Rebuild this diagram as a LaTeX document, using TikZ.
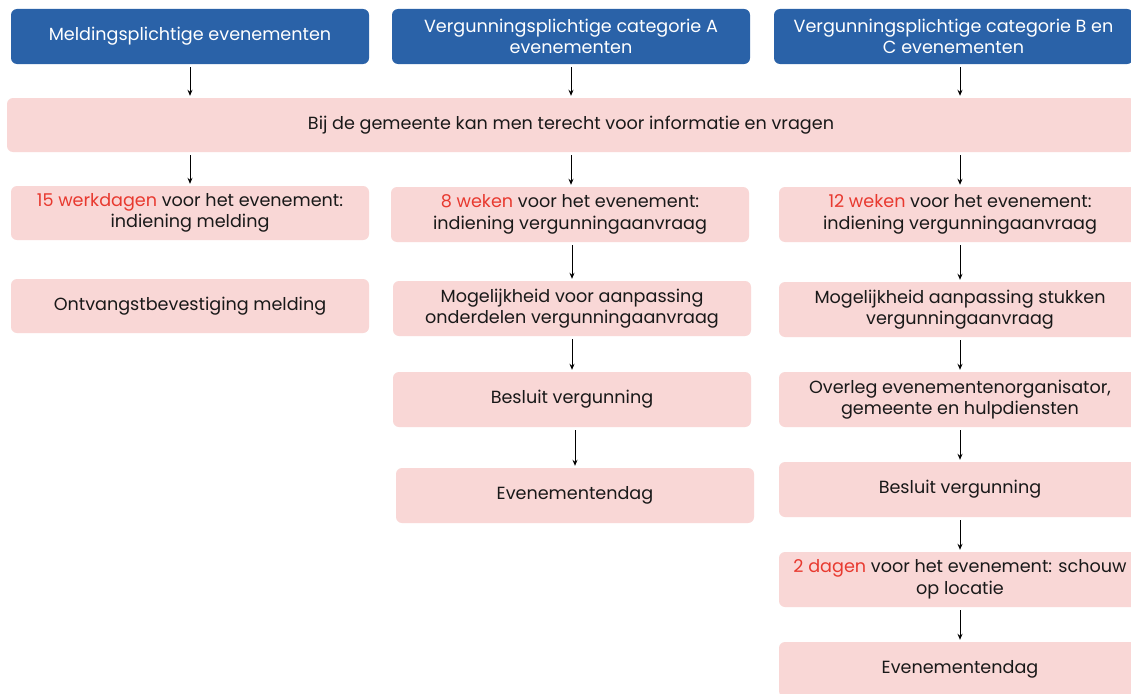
\documentclass[tikz,border=0pt]{standalone}
\usepackage{fontspec}
\setmainfont{Poppins}
\usetikzlibrary{arrows.meta}
\definecolor{hdrblue}{RGB}{42,98,168}
\definecolor{boxpink}{RGB}{249,215,214}
\definecolor{hired}{RGB}{232,57,47}
\definecolor{txt}{RGB}{25,25,25}
\tikzset{
  basebox/.style={rounded corners=6pt, minimum width=358pt, minimum height=55pt,
    align=center, inner sep=0pt, font=\fontsize{17.6}{21.5}\selectfont},
  hdr/.style={basebox, fill=hdrblue, text=white},
  pbox/.style={basebox, fill=boxpink, text=txt},
  arr/.style={-{Stealth[length=6pt,width=5pt]}, line width=1pt, black,
    shorten <=3pt, shorten >=2pt}
}
\begin{document}
\begin{tikzpicture}[x=1pt,y=-1pt]
\clip (0,0) rectangle (1131,693);
\fill[white] (0,0) rectangle (1131,693);
% header row
\node[hdr] (b1) at (190,36.5) {Meldingsplichtige evenementen};
\node[hdr] (b2) at (571,36.5) {Vergunningsplichtige categorie A\\evenementen};
\node[hdr, minimum width=359pt] (b3) at (953.5,36.5) {Vergunningsplichtige categorie B en\\C evenementen};
% wide box
\node[pbox, minimum width=1128pt, minimum height=54pt] (wide) at (571,125)
  {Bij de gemeente kan men terecht voor informatie en vragen};
% column x positions
\coordinate (cL) at (190,0);
\coordinate (cM) at (571,0);
\coordinate (cR) at (960,0);
% left column
\node[pbox, minimum height=54pt] (L1) at (190,213)
  {{\color{hired}15 werkdagen} voor het evenement:\\indiening melding};
\node[pbox, minimum height=54pt] (L2) at (190,306) {Ontvangstbevestiging melding};
% middle column
\node[pbox] (M1) at (570,214.5)
  {{\color{hired}8 weken} voor het evenement:\\indiening vergunningaanvraag};
\node[pbox] (M2) at (572,308.5)
  {Mogelijkheid voor aanpassing\\onderdelen vergunningaanvraag};
\node[pbox] (M3) at (572,399.5) {Besluit vergunning};
\node[pbox] (M4) at (575,495.5) {Evenementendag};
% right column
\node[pbox, minimum width=362pt] (R1) at (960,214.5)
  {{\color{hired}12 weken} voor het evenement:\\indiening vergunningaanvraag};
\node[pbox, minimum width=362pt] (R2) at (960,309.5)
  {Mogelijkheid aanpassing stukken\\vergunningaanvraag};
\node[pbox, minimum width=362pt] (R3) at (960,399.5)
  {Overleg evenementenorganisator,\\gemeente en hulpdiensten};
\node[pbox, minimum width=362pt] (R4) at (960,489.5) {Besluit vergunning};
\node[pbox, minimum width=362pt] (R5) at (960,579.5)
  {{\color{hired}2 dagen} voor het evenement: schouw\\op locatie};
\node[pbox, minimum width=362pt] (R6) at (960,669.5) {Evenementendag};
% arrows
\draw[arr] (b1.south) -- (b1.south |- wide.north);
\draw[arr] (b2.south) -- (b2.south |- wide.north);
\draw[arr] (b3.south -| cR) -- (wide.north -| cR);
\draw[arr] (wide.south -| cL) -- (L1.north);
\draw[arr] (wide.south -| cM) -- (M1.north -| cM);
\draw[arr] (wide.south -| cR) -- (R1.north);
\draw[arr] (M2.north |- M1.south) -- (M2.north);
\draw[arr] (M3.north |- M2.south) -- (M3.north);
\draw[arr] (M4.north |- M3.south) -- (M4.north);
\draw[arr] (R1.south) -- (R2.north);
\draw[arr] (R2.south) -- (R3.north);
\draw[arr] (R3.south) -- (R4.north);
\draw[arr] (R4.south) -- (R5.north);
\draw[arr] (R5.south) -- (R6.north);
\end{tikzpicture}
\end{document}
